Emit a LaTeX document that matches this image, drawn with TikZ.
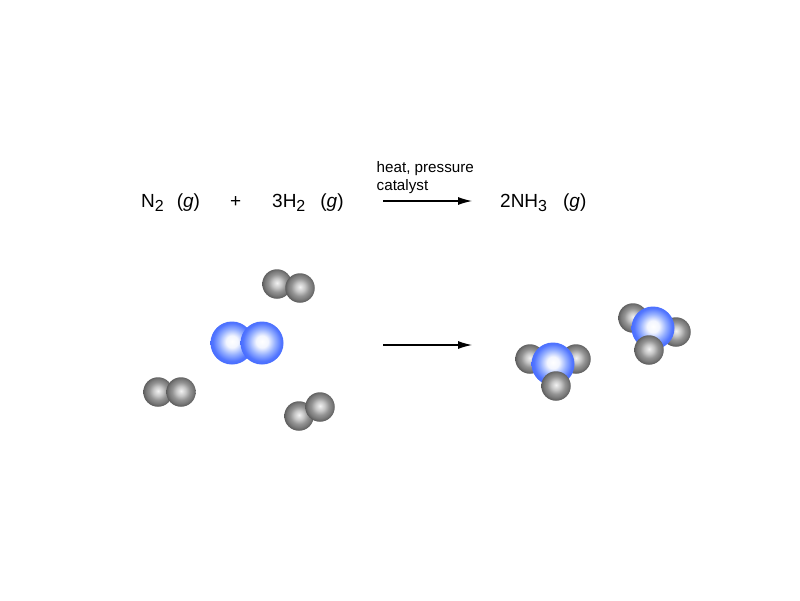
\documentclass[tikz,border=0pt]{standalone}
\usepackage{fontspec}
\setmainfont{Liberation Sans}
\usetikzlibrary{arrows.meta}
\definecolor{nitrorim}{RGB}{66, 104, 255}
\definecolor{nitromid}{RGB}{150, 176, 255}
\newcommand{\lowsub}[1]{\raisebox{-4pt}{\fontsize{16}{18}\selectfont #1}}
\pgfdeclareradialshading{hydrogenball}{\pgfpoint{0bp}{2bp}}{color(0bp)=(black!5); color(8bp)=(black!22); color(15bp)=(black!42); color(21bp)=(black!53); color(25bp)=(black!63); color(28bp)=(black!70); color(50bp)=(black!70)}
\pgfdeclareradialshading{nitrogenball}{\pgfpoint{0bp}{2bp}}{color(0bp)=(white); color(7bp)=(white!88!nitromid); color(15bp)=(nitromid); color(22bp)=(nitrorim!80!nitromid); color(27bp)=(nitrorim); color(50bp)=(nitrorim)}
\begin{document}
\begin{tikzpicture}[x=1pt, y=-1pt,
        hatom/.style={circle, inner sep=0pt, minimum size=29.5pt, shading=hydrogenball},
        natom/.style={circle, inner sep=0pt, minimum size=43pt, shading=nitrogenball},
        formula/.style={anchor=base west, inner sep=0pt, font=\fontsize{19}{21}\selectfont},
        cond/.style={anchor=base west, inner sep=0pt, font=\fontsize{15.2}{17}\selectfont},
        line/.style={draw=black, line width=1.1pt, -{Latex[length=14pt, width=8pt]}}]
    \useasboundingbox (0,0) rectangle (800,600);

    % Ecuacion
    \node [formula] (nitrogen) at (141,207) {N\lowsub{2}\hspace{13pt}(\textit{g})};
    \node [formula] (plus) at (230,207) {+};
    \node [formula] (hydrogen) at (272,207) {3H\lowsub{2}\hspace{15pt}(\textit{g})};
    \node [formula] (ammonia) at (500,207) {2NH\lowsub{3}\hspace{16pt}(\textit{g})};
    \node [cond] (heat) at (376.5,172) {heat, pressure};
    \node [cond] (catalyst) at (376.5,190) {catalyst};
    \coordinate (top start) at (383,201);
    \coordinate (top end) at (472,201);
    \path [line] (top start) -- (top end);

    % Reactivos
    \node [hatom] (h1a) at (277,284) {};
    \node [hatom] (h1b) at (300,288) {};
    \node [natom] (n1a) at (232,343) {};
    \node [natom] (n1b) at (262,343) {};
    \node [hatom] (h2a) at (158,392) {};
    \node [hatom] (h2b) at (181,392) {};
    \node [hatom] (h3a) at (299,416) {};
    \node [hatom] (h3b) at (320,407) {};

    \coordinate (mid start) at (383,345);
    \coordinate (mid end) at (472,345);
    \path [line] (mid start) -- (mid end);

    % Productos
    \node [hatom] (h4a) at (530,359) {};
    \node [hatom] (h4b) at (576,359) {};
    \node [natom] (n2) at (553,364) {};
    \node [hatom] (h4c) at (556,386) {};
    \node [hatom] (h5a) at (633,318) {};
    \node [hatom] (h5b) at (676,332) {};
    \node [natom] (n3) at (653,328) {};
    \node [hatom] (h5c) at (649,350) {};
\end{tikzpicture}
\end{document}
